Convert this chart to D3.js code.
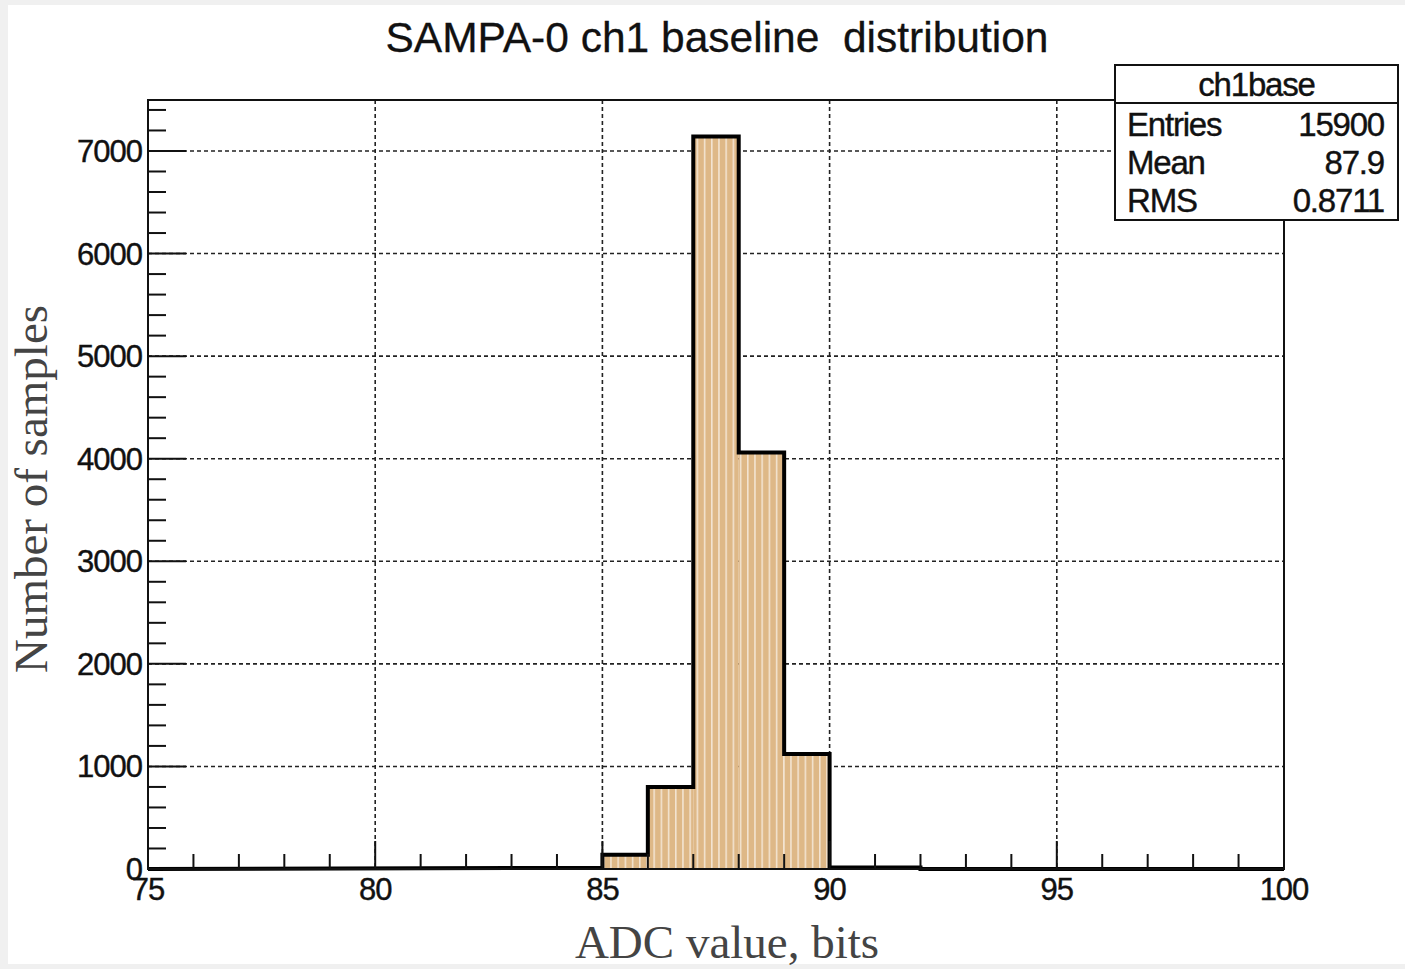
<!DOCTYPE html>
<html><head><meta charset="utf-8">
<script src="https://cdn.jsdelivr.net/npm/d3@7"></script>
<style>
html,body{margin:0;padding:0;background:#f0f0f0;}
svg{display:block;}
text{white-space:pre;}
</style></head>
<body>
<svg id="c" width="1405" height="969"></svg>
<script>
const binEdgesLow = [84, 85, 86, 87, 88, 89, 90, 91];
const binCounts   = [10, 140, 800, 7140, 4060, 1120, 15, 15];
const xTickLabels = [75, 80, 85, 90, 95, 100];
const yTickLabels = [0, 1000, 2000, 3000, 4000, 5000, 6000, 7000];
const statsLabels = ["Entries", "Mean", "RMS"];
const statsValues = ["15900", "87.9", "0.8711"];
const titleText = "SAMPA-0 ch1 baseline  distribution";
const histName = "ch1base";

const svg = d3.select("#c");
svg.append("rect").attr("x", 8).attr("y", 5).attr("width", 1397).attr("height", 959).attr("fill", "#fff");

const L = 148, R = 1284, T = 100, B = 869;
const x = d3.scaleLinear().domain([75, 100]).range([L, R]);
const y = d3.scaleLinear().domain([0, 7497]).range([B, T]);

// pattern fill
const defs = svg.append("defs");
const pat = defs.append("pattern").attr("id", "hp").attr("patternUnits", "userSpaceOnUse")
  .attr("width", 7.2).attr("height", 10);
pat.append("rect").attr("width", 7.2).attr("height", 10).attr("fill", "#deb887");
pat.append("rect").attr("x", 5.6).attr("width", 1.2).attr("height", 10).attr("fill", "#fff").attr("opacity", 0.8);

// grid
const grid = svg.append("g").attr("stroke", "#222").attr("stroke-width", 1.6).attr("stroke-dasharray", "4,3");
xTickLabels.slice(1, -1).forEach(v => grid.append("line").attr("x1", x(v)).attr("x2", x(v)).attr("y1", T).attr("y2", B));
yTickLabels.slice(1).forEach(v => grid.append("line").attr("x1", L).attr("x2", R).attr("y1", y(v)).attr("y2", y(v)));

// bars
const data = binEdgesLow.map((lo, i) => ({lo, hi: lo + 1, n: binCounts[i]}));
svg.append("g").selectAll("rect").data(data).join("rect")
  .attr("x", d => x(d.lo)).attr("width", d => x(d.hi) - x(d.lo))
  .attr("y", d => y(d.n)).attr("height", d => y(0) - y(d.n))
  .attr("fill", "url(#hp)");

// step outline
const pts = [[75, 0]];
data.forEach(d => { pts.push([d.lo, d.n]); pts.push([d.hi, d.n]); });
pts.push([92, 0]); pts.push([100, 0]);
const line = d3.line().x(p => x(p[0])).y(p => y(p[1]));
svg.append("path").attr("d", line(pts)).attr("fill", "none").attr("stroke", "#000").attr("stroke-width", 4).attr("stroke-linejoin", "miter");

// frame
svg.append("rect").attr("x", L).attr("y", T).attr("width", R - L).attr("height", B - T)
  .attr("fill", "none").attr("stroke", "#111").attr("stroke-width", 2);

// ticks
const ax = svg.append("g").attr("stroke", "#111").attr("stroke-width", 2);
d3.range(75, 101, 1).forEach(v => {
  const major = v % 5 === 0;
  ax.append("line").attr("x1", x(v)).attr("x2", x(v)).attr("y1", B).attr("y2", B - (major ? 28 : 15));
});
d3.range(0, 7500, 200).forEach(v => {
  const major = v % 1000 === 0;
  ax.append("line").attr("x1", L).attr("x2", L + (major ? 38 : 18)).attr("y1", y(v)).attr("y2", y(v));
});

const font = "'Liberation Sans', Arial, sans-serif";
const txt = g => g.attr("font-family", font).attr("fill", "#111").attr("stroke", "#111").attr("stroke-width", 0.4);
const xl = svg.append("g").call(txt).attr("font-size", 31).attr("text-anchor", "middle").attr("letter-spacing", -1);
xTickLabels.forEach(v => xl.append("text").attr("x", x(v)).attr("y", B + 31).text(v));
const yl = svg.append("g").call(txt).attr("font-size", 31).attr("text-anchor", "end").attr("letter-spacing", -1);
yTickLabels.forEach(v => yl.append("text").attr("x", L - 6).attr("y", y(v) + 11).text(v));

// title
svg.append("text").call(txt).attr("x", 717).attr("y", 52).attr("text-anchor", "middle")
  .attr("font-size", 42.5).attr("stroke-width", 0.3).text(titleText);

// axis titles
const serif = "'Liberation Serif', 'Times New Roman', serif";
svg.append("text").attr("transform", `translate(47,${489}) rotate(-90)`).attr("text-anchor", "middle")
  .attr("font-family", serif).attr("font-size", 47).attr("fill", "#444").text("Number of samples");
svg.append("text").attr("x", 727).attr("y", 958).attr("text-anchor", "middle")
  .attr("font-family", serif).attr("font-size", 47).attr("fill", "#444").text("ADC value, bits");

// stats box
const bx = 1115, by = 65, bw = 283, bh = 155, hh = 38;
const sb = svg.append("g");
sb.append("rect").attr("x", bx).attr("y", by).attr("width", bw).attr("height", bh).attr("fill", "#fff").attr("stroke", "#111").attr("stroke-width", 2);
sb.append("line").attr("x1", bx).attr("x2", bx + bw).attr("y1", by + hh).attr("y2", by + hh).attr("stroke", "#111").attr("stroke-width", 2);
const st = sb.append("g").call(txt).attr("font-size", 33).attr("letter-spacing", -1.2);
st.append("text").attr("x", bx + bw / 2).attr("y", by + 31).attr("text-anchor", "middle").text(histName);
statsLabels.forEach((s, i) => {
  const yy = by + 71 + i * 38;
  st.append("text").attr("x", bx + 12).attr("y", yy).text(s);
  st.append("text").attr("x", bx + bw - 14).attr("y", yy).attr("text-anchor", "end").text(statsValues[i]);
});
</script>
</body></html>
